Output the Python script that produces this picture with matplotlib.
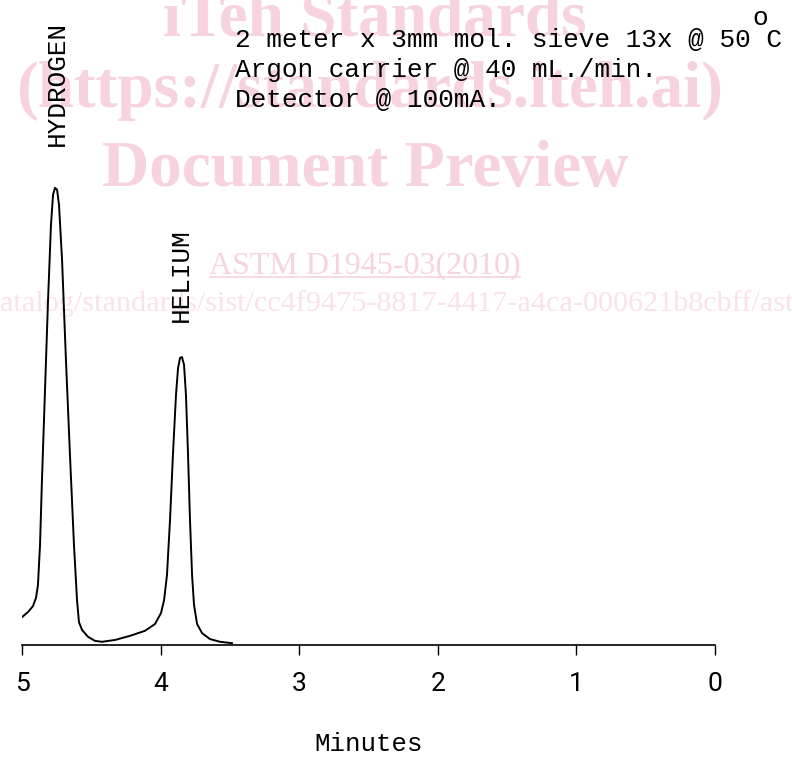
import matplotlib
matplotlib.use("Agg")
import matplotlib.pyplot as plt

# ---- data ----
time_min = [5.000, 4.957, 4.921, 4.899, 4.885, 4.870, 4.856, 4.834, 4.812, 4.791,
            4.776, 4.762, 4.747, 4.733, 4.711, 4.683, 4.654, 4.625, 4.603, 4.589,
            4.567, 4.524, 4.473, 4.423, 4.329, 4.221, 4.113, 4.040, 3.997, 3.975,
            3.954, 3.932, 3.911, 3.889, 3.874, 3.860, 3.846, 3.831, 3.817, 3.802,
            3.788, 3.773, 3.759, 3.737, 3.701, 3.644, 3.571, 3.485]
response = [6.1, 7.2, 8.5, 10.3, 13.1, 21.9, 36.1, 55.8, 75.5, 91.9,
            98.5, 100.0, 99.6, 96.3, 84.2, 62.4, 41.6, 21.9, 9.8, 5.0,
            3.3, 1.8, 0.9, 0.7, 1.1, 2.0, 3.1, 4.6, 7.0, 9.8,
            15.3, 27.4, 41.6, 54.7, 60.6, 62.8, 63.0, 61.3, 54.7, 41.6,
            27.4, 15.3, 8.8, 4.6, 2.6, 1.3, 0.7, 0.4]
tick_values = [5, 4, 3, 2, 1, 0]
tick_labels = ["5", "4", "3", "2", "1", "0"]
peak_names = ["HYDROGEN", "HELIUM"]
conditions = ["2 meter x 3mm mol. sieve 13x @ 50 C",
              "Argon carrier @ 40 mL./min.",
              "Detector @ 100mA."]
xlabel = "Minutes"

W, H = 792, 758
fig = plt.figure(figsize=(W / 100, H / 100), dpi=100)
fig.patch.set_facecolor("white")


def fx(x):
    return x / W


def fy(y):
    return 1 - y / H


# ---- watermark (behind everything) ----
wm_bold = "#f6d3dd"
wm_light = "#fae2e9"
serif = ["Liberation Serif", "DejaVu Serif"]
fig.text(fx(375), fy(35), "iTeh Standards", family=serif, weight="bold",
         fontsize=47, color=wm_bold, ha="center", va="baseline", zorder=-5)
fig.text(fx(370), fy(107), "(https://standards.iteh.ai)", family=serif, weight="bold",
         fontsize=47, color=wm_bold, ha="center", va="baseline", zorder=-5)
fig.text(fx(365), fy(186), "Document Preview", family=serif, weight="bold",
         fontsize=47, color=wm_bold, ha="center", va="baseline", zorder=-5)
fig.text(fx(365), fy(273), "ASTM D1945-03(2010)", family=serif,
         fontsize=23, color=wm_bold, ha="center", va="baseline", zorder=-5)
fig.add_artist(plt.Line2D([fx(210), fx(520)], [fy(277), fy(277)],
                          color=wm_bold, lw=1.2, zorder=-5))
fig.text(fx(-302), fy(311),
         "https://standards.iteh.ai/catalog/standards/sist/cc4f9475-8817-4417-a4ca-000621b8cbff/astm-d1945-032010",
         family=serif, fontsize=21.8, color=wm_light, ha="left", va="baseline", zorder=-5)

# ---- axes ----
ax = fig.add_axes([fx(22), fy(645), fx(715) - fx(22), fy(0) - fy(645)])
ax.set_facecolor("none")
ax.plot(time_min, response, color="black", lw=1.4, solid_joinstyle="round")
ax.set_xlim(5, 0)
ax.set_ylim(0, 141.1)
for s in ["left", "top", "right"]:
    ax.spines[s].set_visible(False)
ax.spines["bottom"].set_linewidth(1.2)
ax.set_yticks([])
ax.set_xticks(tick_values)
ax.set_xticklabels(tick_labels, family=["Roboto", "DejaVu Sans"], weight="normal",
                   fontsize=19)
ax.tick_params(axis="x", direction="out", length=7.2, width=1.0, pad=12)

mono = ["Liberation Mono", "DejaVu Sans Mono"]
ax.set_xlabel(xlabel, family=mono, fontsize=18.5, labelpad=26)

# peak labels
fig.text(fx(57), fy(83), peak_names[0], family=mono, fontsize=18.8, rotation=90,
         ha="center", va="center", zorder=5)
fig.text(fx(181), fy(275), peak_names[1], family=mono, fontsize=18.8, rotation=90,
         ha="center", va="center", zorder=5)

# conditions
for i, line in enumerate(conditions):
    fig.text(fx(235), fy(47 + 30 * i), line, family=mono, fontsize=18.8,
             ha="left", va="baseline", zorder=5)
fig.text(fx(752), fy(25), "o", family=mono, fontsize=18.8,
         ha="left", va="baseline", zorder=5)

fig.savefig("out.png", dpi=100)
